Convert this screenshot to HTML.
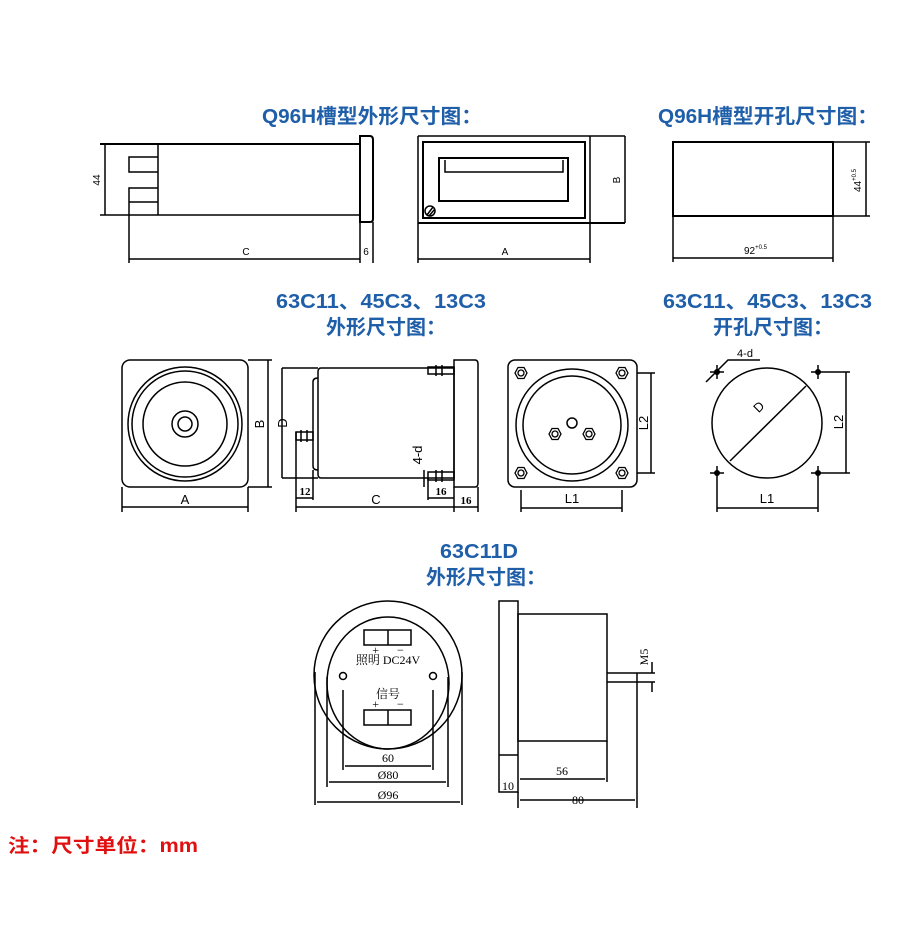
<!DOCTYPE html>
<html><head><meta charset="utf-8"><style>
html,body{margin:0;padding:0;background:#fff;}
svg{display:block;}
.t{font-family:"Liberation Sans","Noto Sans CJK SC",sans-serif;font-weight:bold;fill:#1f5ea8;font-size:20px;}
.s{font-family:"Liberation Sans","Noto Sans CJK SC",sans-serif;font-size:10px;fill:#000;}
.f{font-family:"Liberation Serif","Noto Serif CJK SC",serif;font-size:12px;fill:#000;}
</style></head><body>
<svg width="905" height="927" viewBox="0 0 905 927" xmlns="http://www.w3.org/2000/svg">
<g fill="none" stroke="#000" stroke-width="1.5">
<!-- Drawing 1 -->
<line x1="100" y1="144" x2="360" y2="144" stroke-width="2"/>
<line x1="100" y1="215" x2="360" y2="215"/>
<line x1="105" y1="144" x2="105" y2="215"/>
<line x1="158" y1="144" x2="158" y2="215"/>
<polyline points="158,157 129,157 129,172 158,172"/>
<polyline points="158,188 129,188 129,263"/>
<line x1="129" y1="202" x2="158" y2="202"/>
<path d="M360,136 H370 Q373,136 373,140 V219 Q373,222 370,222 H360 Z" stroke-width="2"/>
<line x1="360" y1="222" x2="360" y2="263"/>
<line x1="373" y1="222" x2="373" y2="263"/>
<line x1="129" y1="259" x2="360" y2="259"/>
<!-- Drawing 2 -->
<line x1="418" y1="136" x2="625" y2="136"/>
<line x1="418" y1="223" x2="625" y2="223" stroke-width="2"/>
<line x1="418" y1="136" x2="418" y2="263"/>
<line x1="590" y1="136" x2="590" y2="263"/>
<rect x="423" y="142" width="162" height="76" stroke-width="2"/>
<rect x="439" y="158" width="129" height="43" stroke-width="2"/>
<polyline points="445,160 445,172 563,172 563,160"/>
<circle cx="430" cy="211" r="5"/>
<line x1="427" y1="215" x2="433" y2="207"/><line x1="429" y1="216" x2="435" y2="209"/>
<line x1="625" y1="136" x2="625" y2="223"/>
<line x1="418" y1="259" x2="590" y2="259"/>
<!-- Drawing 3 -->
<rect x="673" y="142" width="160" height="74" stroke-width="2"/>
<line x1="833" y1="142" x2="870" y2="142"/>
<line x1="833" y1="216" x2="870" y2="216"/>
<line x1="866" y1="142" x2="866" y2="216"/>
<line x1="673" y1="216" x2="673" y2="262"/>
<line x1="833" y1="216" x2="833" y2="262"/>
<line x1="673" y1="258" x2="833" y2="258"/>
<!-- front square -->
<rect x="122" y="360" width="126" height="127" rx="8"/>
<circle cx="185" cy="424" r="57"/><circle cx="185" cy="424" r="53"/><circle cx="185" cy="424" r="42"/>
<circle cx="185" cy="424" r="13"/><circle cx="185" cy="424" r="7"/>
<line x1="248" y1="360" x2="272" y2="360"/><line x1="248" y1="487" x2="272" y2="487"/>
<line x1="268" y1="360" x2="268" y2="487"/>
<line x1="122" y1="487" x2="122" y2="512"/><line x1="248" y1="487" x2="248" y2="512"/>
<line x1="122" y1="507" x2="248" y2="507"/>
<!-- side -->
<path d="M454,360 H475 Q478,360 478,364 V483 Q478,487 475,487 H454 Z"/>
<path d="M321,368 H454 V478 H321 Q318,478 318,474 V372 Q318,368 321,368 Z"/>
<path d="M318,378 Q313,378 313,382 V466 Q313,470 318,470"/>
<rect x="428" y="367" width="26" height="7"/><line x1="436" y1="365" x2="436" y2="376"/><line x1="442" y1="365" x2="442" y2="376"/>
<rect x="428" y="472" width="26" height="8"/><line x1="436" y1="470" x2="436" y2="482"/><line x1="442" y1="470" x2="442" y2="482"/>
<rect x="296" y="432" width="17" height="8"/><line x1="301" y1="430" x2="301" y2="442"/><line x1="307" y1="430" x2="307" y2="442"/>
<line x1="282" y1="368" x2="318" y2="368"/><line x1="282" y1="478" x2="318" y2="478"/>
<line x1="282" y1="368" x2="282" y2="478"/>
<line x1="296" y1="432" x2="296" y2="512"/><line x1="313" y1="470" x2="313" y2="500"/>
<line x1="296" y1="498" x2="313" y2="498"/>
<line x1="428" y1="478" x2="428" y2="500"/><line x1="454" y1="487" x2="454" y2="512"/><line x1="478" y1="487" x2="478" y2="512"/>
<line x1="428" y1="498" x2="454" y2="498"/>
<line x1="296" y1="507" x2="478" y2="507"/>
<line x1="424" y1="470" x2="424" y2="487"/>
<!-- cutout square -->
<rect x="508" y="360" width="129" height="127" rx="7"/>
<circle cx="572" cy="425" r="56"/><circle cx="572" cy="425" r="49"/>
<circle cx="572" cy="423" r="5"/>
<line x1="637" y1="373" x2="655" y2="373"/><line x1="637" y1="473" x2="655" y2="473"/>
<line x1="651" y1="373" x2="651" y2="473"/>
<line x1="521" y1="490" x2="521" y2="512"/><line x1="622" y1="490" x2="622" y2="512"/>
<line x1="521" y1="508" x2="622" y2="508"/>
<!-- cutout circle -->
<circle cx="767" cy="423" r="55"/>
<line x1="730" y1="461" x2="806" y2="386"/>
<line x1="710" y1="372" x2="724" y2="372"/><line x1="717" y1="365" x2="717" y2="379"/>
<line x1="811" y1="372" x2="850" y2="372"/><line x1="818" y1="365" x2="818" y2="379"/>
<line x1="710" y1="473" x2="724" y2="473"/><line x1="717" y1="466" x2="717" y2="512"/>
<line x1="811" y1="473" x2="850" y2="473"/><line x1="818" y1="466" x2="818" y2="512"/>
<line x1="846" y1="372" x2="846" y2="473"/>
<line x1="717" y1="508" x2="818" y2="508"/>
<polyline points="706,382 728,360 760,360"/>
<!-- 63C11D front -->
<circle cx="388" cy="675" r="74"/>
<ellipse cx="388" cy="683" rx="61" ry="66"/>
<rect x="364" y="630" width="47" height="15"/><line x1="388" y1="630" x2="388" y2="645"/>
<rect x="364" y="710" width="47" height="15"/><line x1="388" y1="710" x2="388" y2="725"/>
<circle cx="343" cy="676" r="3.5"/><circle cx="433" cy="676" r="3.5"/>
<line x1="343" y1="690" x2="343" y2="770"/><line x1="433" y1="690" x2="433" y2="770"/>
<line x1="345" y1="766" x2="431" y2="766"/>
<line x1="327" y1="677" x2="327" y2="787"/><line x1="448" y1="677" x2="448" y2="787"/>
<line x1="329" y1="782" x2="446" y2="782"/>
<line x1="315" y1="672" x2="315" y2="805"/><line x1="462" y1="672" x2="462" y2="805"/>
<line x1="317" y1="802" x2="460" y2="802"/>
<!-- side -->
<rect x="499" y="601" width="19" height="191"/>
<line x1="499" y1="755" x2="518" y2="755"/>
<rect x="518" y="614" width="89" height="127"/>
<line x1="607" y1="673" x2="655" y2="673"/><line x1="607" y1="682" x2="655" y2="682"/>
<line x1="637" y1="673" x2="637" y2="808"/>
<line x1="652" y1="662" x2="652" y2="673"/><line x1="652" y1="682" x2="652" y2="692"/>
<line x1="607" y1="741" x2="607" y2="782"/>
<line x1="520" y1="779" x2="605" y2="779"/>
<line x1="518" y1="792" x2="518" y2="808"/>
<line x1="520" y1="800" x2="635" y2="800"/>
</g>
<g fill="none" stroke="#000" stroke-width="1.3">
<g transform="translate(521,373)"><polygon points="-6,0 -3,-5.5 3,-5.5 6,0 3,5.5 -3,5.5"/><circle r="3"/></g>
<g transform="translate(622,373)"><polygon points="-6,0 -3,-5.5 3,-5.5 6,0 3,5.5 -3,5.5"/><circle r="3"/></g>
<g transform="translate(521,473)"><polygon points="-6,0 -3,-5.5 3,-5.5 6,0 3,5.5 -3,5.5"/><circle r="3"/></g>
<g transform="translate(622,473)"><polygon points="-6,0 -3,-5.5 3,-5.5 6,0 3,5.5 -3,5.5"/><circle r="3"/></g>
<g transform="translate(555,434)"><polygon points="-6,0 -3,-5.5 3,-5.5 6,0 3,5.5 -3,5.5"/><circle r="3"/></g>
<g transform="translate(589,434)"><polygon points="-6,0 -3,-5.5 3,-5.5 6,0 3,5.5 -3,5.5"/><circle r="3"/></g>
</g>
<g fill="#000"><circle cx="717" cy="372" r="3"/><circle cx="818" cy="372" r="3"/><circle cx="717" cy="473" r="3"/><circle cx="818" cy="473" r="3"/></g>
<!-- titles -->
<text class="t" x="262" y="123" textLength="220" lengthAdjust="spacingAndGlyphs">Q96H槽型外形尺寸图：</text>
<text class="t" x="658" y="123" textLength="220" lengthAdjust="spacingAndGlyphs">Q96H槽型开孔尺寸图：</text>
<text class="t" x="276" y="308" textLength="210" lengthAdjust="spacingAndGlyphs">63C11、45C3、13C3</text>
<text class="t" x="326" y="334" textLength="120" lengthAdjust="spacingAndGlyphs">外形尺寸图：</text>
<text class="t" x="663" y="308" textLength="209" lengthAdjust="spacingAndGlyphs">63C11、45C3、13C3</text>
<text class="t" x="713" y="334" textLength="120" lengthAdjust="spacingAndGlyphs">开孔尺寸图：</text>
<text class="t" x="440" y="558" textLength="78" lengthAdjust="spacingAndGlyphs">63C11D</text>
<text class="t" x="426" y="584" textLength="120" lengthAdjust="spacingAndGlyphs">外形尺寸图：</text>
<text x="8" y="852" textLength="190" lengthAdjust="spacingAndGlyphs" style="font-family:'Liberation Sans','Noto Sans CJK SC',sans-serif;font-weight:bold;font-size:19px;fill:#e01010">注：尺寸单位：mm</text>
<!-- labels -->
<text class="s" x="246" y="255" text-anchor="middle">C</text>
<text class="s" x="366" y="255" text-anchor="middle">6</text>
<text class="s" x="505" y="255" text-anchor="middle">A</text>
<text class="s" transform="translate(100,180) rotate(-90)" text-anchor="middle">44</text>
<text class="s" transform="translate(620,180) rotate(-90)" text-anchor="middle">B</text>
<text class="s" x="744" y="254">92<tspan font-size="6" dy="-5">+0.5</tspan></text>
<text class="s" transform="translate(861,192) rotate(-90)">44<tspan font-size="6" dy="-5">+0.5</tspan></text>
<g style="font-family:'Liberation Sans',sans-serif;font-size:13px">
<text x="185" y="504" text-anchor="middle">A</text>
<text transform="translate(264,424) rotate(-90)" text-anchor="middle">B</text>
<text transform="translate(287,423) rotate(-90)" text-anchor="middle">D</text>
<text x="376" y="504" text-anchor="middle">C</text>
<text transform="translate(422,455) rotate(-90)" text-anchor="middle">4-d</text>
<text transform="translate(648,423) rotate(-90)" text-anchor="middle">L2</text>
<text x="572" y="503" text-anchor="middle">L1</text>
<text transform="translate(843,422) rotate(-90)" text-anchor="middle">L2</text>
<text x="767" y="503" text-anchor="middle">L1</text>
<text transform="translate(762,410) rotate(-45)" text-anchor="middle">D</text>
<text x="745" y="357" text-anchor="middle" font-size="11">4-d</text>
</g>
<g style="font-family:'Liberation Serif',serif;font-size:11px;font-weight:bold">
<text x="305" y="495" text-anchor="middle">12</text>
<text x="441" y="495" text-anchor="middle">16</text>
<text x="466" y="504" text-anchor="middle">16</text>
</g>
<g class="f">
<text class="f" x="388" y="654" text-anchor="middle" font-size="10">+&#160;&#160;&#160;&#160;&#160;&#160;−</text>
<text class="f" x="388" y="664" text-anchor="middle" font-size="9">照明 DC24V</text>
<text class="f" x="388" y="698" text-anchor="middle" font-size="9">信号</text>
<text class="f" x="388" y="708" text-anchor="middle" font-size="10">+&#160;&#160;&#160;&#160;&#160;&#160;−</text>
<text class="f" x="388" y="762" text-anchor="middle">60</text>
<text class="f" x="388" y="779" text-anchor="middle">Ø80</text>
<text class="f" x="388" y="799" text-anchor="middle">Ø96</text>
<text class="f" x="562" y="775" text-anchor="middle">56</text>
<text class="f" x="508" y="790" text-anchor="middle">10</text>
<text class="f" x="578" y="804" text-anchor="middle">80</text>
<text class="f" transform="translate(648,657) rotate(-90)" text-anchor="middle">M5</text>
</g>
</svg>
</body></html>
